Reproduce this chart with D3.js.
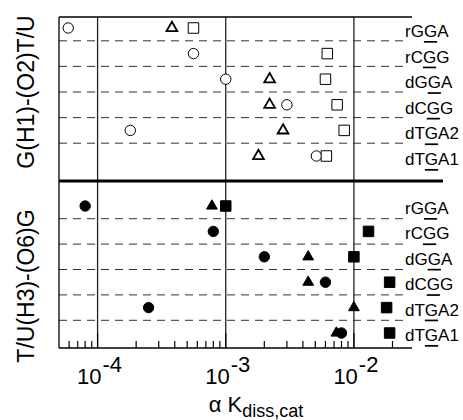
<!DOCTYPE html>
<html>
<head>
<meta charset="utf-8">
<script src="https://cdn.jsdelivr.net/npm/d3@7"></script>
<style>
    body { margin: 0; background: #fff; }
    text { font-family: "Liberation Sans", Arial, Helvetica, sans-serif; fill: #000; }
</style>
</head>
<body>
<svg id="chart" width="463" height="420"></svg>
<script>
// rows (same order in both panels)
const rows = ["rGGA", "rCGG", "dGGA", "dCGG", "dTGA2", "dTGA1"];

// G(H1)-(O2)T/U panel, open symbols
const topCircle = [5.9e-5, 5.6e-4, 1.0e-3, 3.0e-3, 1.8e-4, 5.1e-3];
const topTriangle = [3.8e-4, null, 2.2e-3, 2.2e-3, 2.8e-3, 1.8e-3];
const topSquare = [5.6e-4, 6.2e-3, 6.0e-3, 7.4e-3, 8.4e-3, 6.1e-3];

// T/U(H3)-(O6)G panel, filled symbols
const botCircle = [8.0e-5, 8.0e-4, 2.0e-3, 6.0e-3, 2.5e-4, 8.0e-3];
const botTriangle = [7.8e-4, null, 4.4e-3, 4.4e-3, 1.0e-2, 7.3e-3];
const botSquare = [1.0e-3, 1.3e-2, 1.0e-2, 1.9e-2, 1.8e-2, 1.9e-2];

const decades = [1e-4, 1e-3, 1e-2];
const decadeExp = ["-4", "-3", "-2"];

const svg = d3.select("#chart");

const pLeft = 59, pRight = 412, pTop = 17, pBottom = 348, split = 181;

const x = d3.scaleLog()
    .domain([5e-5, 2.84e-2])
    .range([pLeft, pRight]);

const yTop = d3.scalePoint().domain(rows).range([28, 156]);
const yBot = d3.scalePoint().domain(rows).range([206, 333]);

// dashed separators between rows
function dashes(y) {
    const step = y.step();
    svg.selectAll(null)
        .data(rows.slice(1))
        .enter()
        .append("line")
        .attr("x1", pLeft)
        .attr("x2", 404)
        .attr("y1", d => y(d) - step / 2)
        .attr("y2", d => y(d) - step / 2)
        .style("stroke", "#333")
        .style("stroke-width", 1)
        .style("stroke-dasharray", "8,6");
}
dashes(yTop);
dashes(yBot);

// decade grid lines
svg.selectAll(null)
    .data(decades)
    .enter()
    .append("line")
    .attr("x1", d => x(d)).attr("x2", d => x(d))
    .attr("y1", pTop).attr("y2", pBottom)
    .style("stroke", "#222")
    .style("stroke-width", 1.3);

// frame
svg.append("line").attr("x1", pLeft).attr("x2", pRight).attr("y1", pTop).attr("y2", pTop)
    .style("stroke", "#000").style("stroke-width", 1.3);
svg.append("line").attr("x1", pLeft).attr("x2", pLeft).attr("y1", pTop).attr("y2", pBottom)
    .style("stroke", "#000").style("stroke-width", 1.3);
svg.append("line").attr("x1", pLeft).attr("x2", pRight).attr("y1", pBottom).attr("y2", pBottom)
    .style("stroke", "#000").style("stroke-width", 1.3);
svg.append("line").attr("x1", pLeft).attr("x2", 443).attr("y1", split).attr("y2", split)
    .style("stroke", "#000").style("stroke-width", 3.2);

// ticks on bottom axis
const ticks = x.ticks().filter(d => x(d) > pLeft + 1);
svg.selectAll(null)
    .data(ticks)
    .enter()
    .append("line")
    .attr("x1", d => x(d)).attr("x2", d => x(d))
    .attr("y1", pBottom)
    .attr("y2", d => decades.includes(d) ? pBottom - 15 : pBottom - 7)
    .style("stroke", "#000")
    .style("stroke-width", 1.2);

// tick labels 10^n
const tl = svg.selectAll(null)
    .data(decades)
    .enter()
    .append("text")
    .attr("x", d => x(d) + 2)
    .attr("y", 384)
    .attr("text-anchor", "middle")
    .style("font-size", "22px");
tl.append("tspan").text("10");
tl.append("tspan").attr("dx", 1).attr("dy", -12).text((d, i) => decadeExp[i]);

// x title
const xt = svg.append("text")
    .attr("x", 256)
    .attr("y", 412)
    .attr("text-anchor", "middle")
    .style("font-size", "22px");
xt.append("tspan").text("\u03b1 K");
xt.append("tspan").attr("dy", 5).style("font-size", "18px").text("diss,cat");

// y titles
svg.append("text")
    .attr("transform", "translate(26,92) rotate(-90)")
    .attr("text-anchor", "middle")
    .attr("dominant-baseline", "central")
    .style("font-size", "23px")
    .text("G(H1)-(O2)T/U");
svg.append("text")
    .attr("transform", "translate(26,286) rotate(-90)")
    .attr("text-anchor", "middle")
    .attr("dominant-baseline", "central")
    .style("font-size", "23px")
    .text("T/U(H3)-(O6)G");

// row labels, third letter underlined
function rowLabels(y, dy) {
    const t = svg.selectAll(null)
        .data(rows)
        .enter()
        .append("text")
        .attr("x", 405)
        .attr("y", d => y(d) + dy)
        .attr("dominant-baseline", "central")
        .style("font-size", "17px");
    t.append("tspan").text(d => d.slice(0, 2));
    t.append("tspan").style("text-decoration", "underline").text(d => d.slice(2, 3));
    t.append("tspan").text(d => d.slice(3));
}
rowLabels(yTop, 3);
rowLabels(yBot, 2);

// markers
const shapes = {
    circle: d3.symbol().type(d3.symbolCircle).size(85),
    triangle: d3.symbol().type(d3.symbolTriangle).size(50),
    square: d3.symbol().type(d3.symbolSquare).size(110)
};

function markers(values, shape, y, filled) {
    const pts = rows.map((r, i) => ({ row: r, v: values[i] })).filter(d => d.v != null);
    svg.selectAll(null)
        .data(pts)
        .enter()
        .append("path")
        .attr("d", shapes[shape])
        .attr("transform", d => `translate(${x(d.v)},${y(d.row)})`)
        .style("fill", filled ? "#000" : "#fff")
        .style("stroke", "#000")
        .style("stroke-width", shape === "triangle" && !filled ? 1.8 : 1);
}

markers(topCircle, "circle", yTop, false);
markers(topTriangle, "triangle", yTop, false);
markers(topSquare, "square", yTop, false);
markers(botCircle, "circle", yBot, true);
markers(botTriangle, "triangle", yBot, true);
markers(botSquare, "square", yBot, true);
</script>
</body>
</html>
